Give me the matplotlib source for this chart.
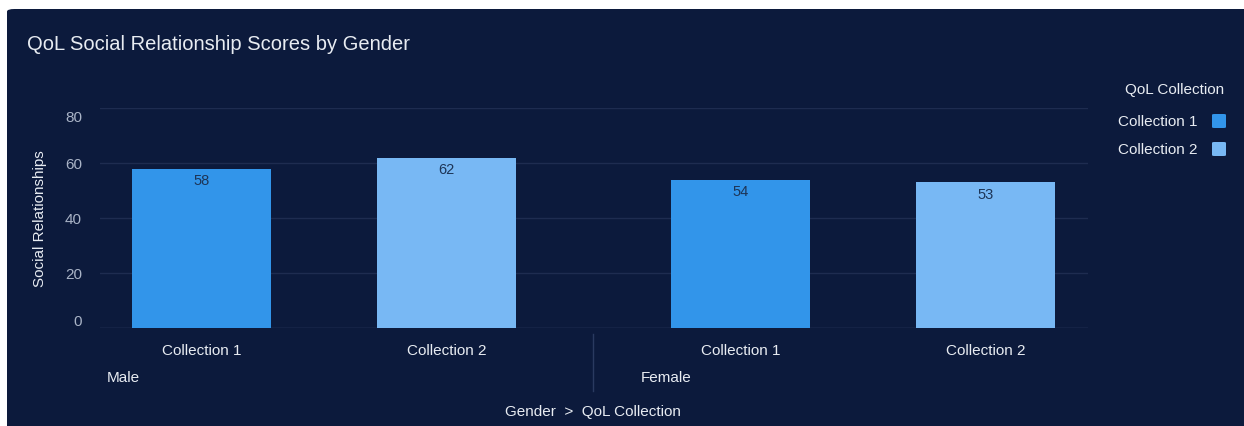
import matplotlib
matplotlib.use("Agg")
import matplotlib.pyplot as plt
import matplotlib.transforms as mtransforms
from matplotlib.patches import FancyBboxPatch
import numpy as np

# Data
genders = ["Male", "Female"]
collections = ["Collection 1", "Collection 2"]
scores = {
    "Male": [58, 62],
    "Female": [54, 53],
}
y_ticks = [0, 20, 40, 60, 80]

# Style
BG = "#0c1a3c"
GRID = "#1e2c50"
BAR_COLORS = ["#3295ea", "#78b8f4"]
LABEL_DARK = "#1d3557"
TEXT = "#e8ecf2"
TICK = "#a9b3c6"
FONT = "Liberation Sans"
FS = 11

W, H = 1244, 427
fig = plt.figure(figsize=(W / 100, H / 100), dpi=100)
fig.patch.set_facecolor("white")

# dark card
card = FancyBboxPatch((7 / W, -0.2), 1.2, 1 - 10 / H + 0.2,
                      boxstyle="round,pad=0,rounding_size=0.006",
                      transform=fig.transFigure, facecolor=BG,
                      edgecolor="none", zorder=-10)
fig.patches.append(card)

ax_left, ax_right = 100 / W, 1088 / W
ax_bottom, ax_top = 1 - 329 / H, 1 - 109 / H
ax = fig.add_axes([ax_left, ax_bottom, ax_right - ax_left, ax_top - ax_bottom])
ax.set_facecolor("none")
ax.set_zorder(5)

group_gap = 539
step = 245
first = 101.5
bar_w = 139

xticks, xlabels = [], []
for g, gender in enumerate(genders):
    for i, coll in enumerate(collections):
        x = first + g * group_gap + i * step
        v = scores[gender][i]
        ax.bar(x, v, width=bar_w, color=BAR_COLORS[i], zorder=3)
        ax.text(x, v - 1.7, f"{v}", ha="center", va="top", fontsize=10.5,
                color=LABEL_DARK, family=FONT, zorder=4)
        xticks.append(x)
        xlabels.append(coll)

ax.set_xlim(0, 988)
ax.set_ylim(0, 80)
ax.set_yticks(y_ticks)
ax.set_yticklabels([str(t) for t in y_ticks], family=FONT, fontsize=FS, color=TICK)
ax.set_xticks(xticks)
ax.set_xticklabels(xlabels, family=FONT, fontsize=FS, color=TEXT)
ax.tick_params(axis="y", length=0, pad=13)
ax.tick_params(axis="x", length=0, pad=11)
for s in ax.spines.values():
    s.set_visible(False)
ax.grid(axis="y", color=GRID, linewidth=1, zorder=1)
ax.axhline(0, color="#2a3a60", linewidth=1, zorder=2)

# keep the outermost tick labels inside the plot band
ylabels = ax.get_yticklabels()
ylabels[0].set_transform(ylabels[0].get_transform() +
                         mtransforms.ScaledTranslation(0, 8 / 100, fig.dpi_scale_trans))
ylabels[-1].set_transform(ylabels[-1].get_transform() +
                          mtransforms.ScaledTranslation(0, -8 / 100, fig.dpi_scale_trans))

ax.set_ylabel("Social Relationships", family=FONT, fontsize=FS, color=TEXT, labelpad=13)

def fx(px):
    return px / W

def fy(py):
    return 1 - py / H

# group labels and divider
fig.text(fx(107), fy(378), "Male", family=FONT, fontsize=FS, color=TEXT, va="center", ha="left")
fig.text(fx(641), fy(378), "Female", family=FONT, fontsize=FS, color=TEXT, va="center", ha="left")
fig.add_artist(plt.Line2D([fx(593), fx(593)], [fy(335), fy(392)],
                          transform=fig.transFigure, color="#2a3a60", linewidth=1))

fig.text(fx(593), fy(412), "Gender  >  QoL Collection", family=FONT, fontsize=FS,
         color=TEXT, ha="center", va="center")

# title
fig.text(fx(27), fy(45), "QoL Social Relationship Scores by Gender", family=FONT,
         fontsize=14.5, color=TEXT, ha="left", va="center")

# legend
fig.text(fx(1224), fy(90), "QoL Collection", family=FONT, fontsize=FS, color=TEXT,
         ha="right", va="center")
for i, coll in enumerate(collections):
    cy = 122 + i * 28
    fig.text(fx(1198), fy(cy), coll, family=FONT, fontsize=FS, color=TEXT,
             ha="right", va="center")
    sq = FancyBboxPatch((fx(1212), fy(cy + 7)), 14 / W, 14 / H,
                        boxstyle="round,pad=0,rounding_size=0.002",
                        transform=fig.transFigure, facecolor=BAR_COLORS[i],
                        edgecolor="none")
    fig.patches.append(sq)

fig.savefig("out.png", dpi=100, facecolor=fig.get_facecolor())
